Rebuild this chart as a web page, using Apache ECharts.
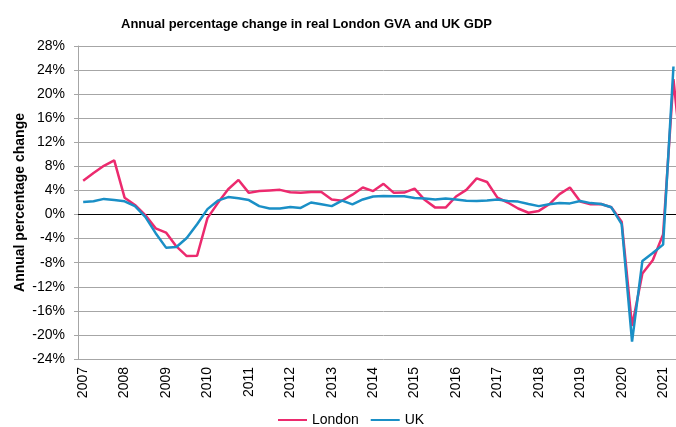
<!DOCTYPE html>
<html>
<head>
<meta charset="utf-8">
<script src="https://cdn.jsdelivr.net/npm/echarts@6/dist/echarts.min.js"></script>
<style>
  html, body { margin: 0; padding: 0; background: #fff; overflow: hidden; }
  /* the source chart is cropped on the right, so the canvas runs past the window */
  #chart { width: 689px; height: 427px; }
</style>
</head>
<body>
<div id="chart"></div>
<script>
// quarterly periods, 2007 Q1 .. 2021 Q3
const years = [2007, 2008, 2009, 2010, 2011, 2012, 2013, 2014, 2015, 2016, 2017, 2018, 2019, 2020, 2021]
const quarters = ['Q1', 'Q2', 'Q3', 'Q4']
const categories = []
years.forEach(y => quarters.forEach(q => categories.push(y + ' ' + q)))
categories.length = 59

const london = [
  5.6, 6.9, 8.1, 9.0, 2.8, 1.6, -0.1, -2.3, -3.0, -5.3, -6.9, -6.85,
  -0.6, 1.9, 4.2, 5.75, 3.6, 3.9, 4.0, 4.1, 3.7, 3.6, 3.75, 3.75,
  2.5, 2.3, 3.3, 4.5, 3.9, 5.1, 3.6, 3.65, 4.3, 2.4, 1.15, 1.15,
  3.0, 4.1, 6.0, 5.4, 2.8, 2.0, 1.0, 0.3, 0.6, 1.7, 3.4, 4.5,
  2.15, 1.7, 1.75, 1.2, -1.2, -18.5, -9.8, -7.6, -3.3, 22.5, 5.5
]
const uk = [
  2.1, 2.2, 2.6, 2.4, 2.2, 1.4, -0.4, -3.1, -5.5, -5.4, -3.9, -1.6,
  0.9, 2.3, 2.9, 2.7, 2.4, 1.4, 1.0, 1.0, 1.26, 1.1, 2.0, 1.7,
  1.4, 2.3, 1.7, 2.5, 3.0, 3.1, 3.05, 3.05, 2.75, 2.65, 2.5, 2.65,
  2.5, 2.3, 2.25, 2.35, 2.5, 2.25, 2.15, 1.75, 1.4, 1.7, 1.9, 1.85,
  2.25, 1.9, 1.75, 1.2, -1.6, -21.1, -7.7, -6.4, -5.0, 24.6, null
]

const font = 'Liberation Sans, Arial, sans-serif'
const gridGrey = '#a6a6a6'
const yearTick = (i) => i % 4 === 0

const chart = echarts.init(document.getElementById('chart'))

chart.setOption({
  animation: false,
  backgroundColor: '#fff',
  textStyle: { fontFamily: font },
  title: {
    text: 'Annual percentage change in real London GVA and UK GDP',
    left: 116,
    top: 13,
    textStyle: { fontFamily: font, fontSize: 13, fontWeight: 'bold', color: '#000' }
  },
  legend: {
    top: 408,
    left: 273,
    icon: 'rect',
    itemWidth: 29,
    itemHeight: 2,
    itemGap: 12,
    textStyle: { fontFamily: font, fontSize: 14, color: '#000' },
    data: ['London', 'UK']
  },
  grid: { left: 78, right: 0, top: 46, bottom: 68, containLabel: false },
  xAxis: [
    {
      // zero line, ticks downward
      type: 'category',
      data: categories,
      boundaryGap: true,
      axisLine: { onZero: true, lineStyle: { color: '#000', width: 1 } },
      axisTick: { interval: yearTick, length: 4, lineStyle: { color: '#000' } },
      axisLabel: { show: false },
      splitLine: { show: false }
    },
    {
      // zero line, ticks upward
      type: 'category',
      data: categories,
      position: 'bottom',
      boundaryGap: true,
      axisLine: { show: false, onZero: true },
      axisTick: { interval: yearTick, inside: true, length: 4, lineStyle: { color: '#000' } },
      axisLabel: { show: false },
      splitLine: { show: false }
    },
    {
      // year labels along the bottom
      type: 'category',
      data: categories,
      position: 'bottom',
      boundaryGap: true,
      axisLine: { show: false, onZero: false },
      axisTick: { show: false },
      axisLabel: {
        interval: 3,
        rotate: 90,
        margin: 8,
        fontSize: 14,
        color: '#000',
        formatter: (v) => v.slice(0, 4)
      },
      splitLine: { show: false }
    }
  ],
  yAxis: {
    type: 'value',
    min: -24,
    max: 28,
    interval: 4,
    name: 'Annual percentage change',
    nameLocation: 'middle',
    nameRotate: 90,
    nameGap: 51,
    nameMoveOverlap: false,
    nameTextStyle: { fontFamily: font, fontSize: 14, fontWeight: 'bold', color: '#000' },
    axisLine: { show: true, lineStyle: { color: gridGrey } },
    axisTick: { show: true, length: 4, lineStyle: { color: gridGrey } },
    axisLabel: { formatter: '{value}%', fontSize: 14, color: '#000', margin: 13 },
    splitLine: { lineStyle: { color: gridGrey, width: 1 } }
  },
  series: [
    {
      name: 'London',
      type: 'line',
      data: london,
      symbol: 'none',
      lineStyle: { color: '#ec2a6e', width: 2.5 },
      itemStyle: { color: '#ec2a6e' }
    },
    {
      name: 'UK',
      type: 'line',
      data: uk,
      symbol: 'none',
      lineStyle: { color: '#1a8fc6', width: 2.5 },
      itemStyle: { color: '#1a8fc6' }
    }
  ]
})
</script>
</body>
</html>
